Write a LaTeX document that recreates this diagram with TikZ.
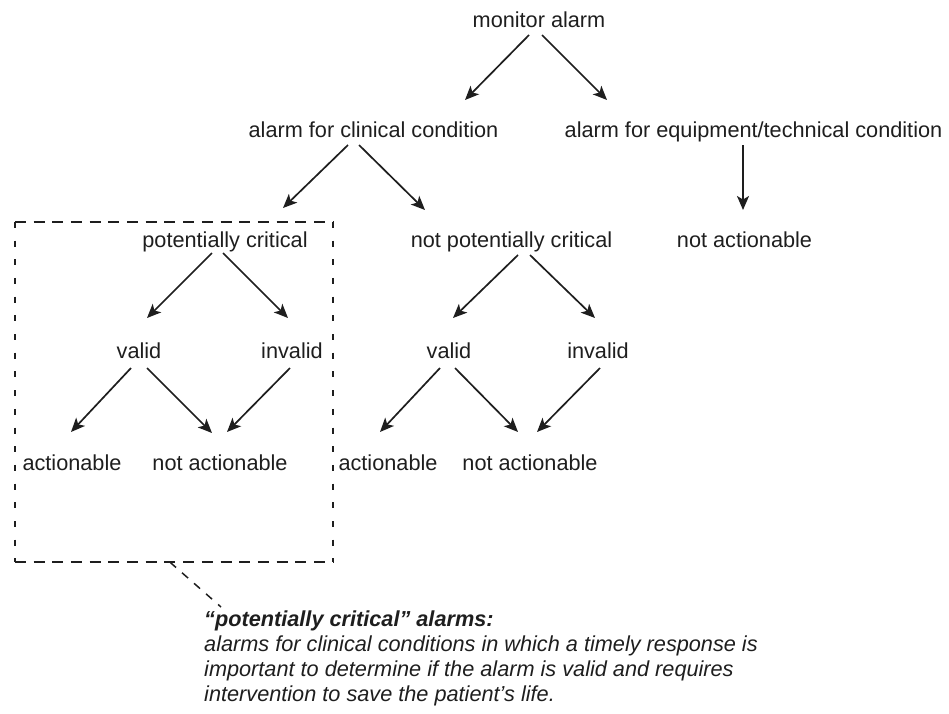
\documentclass[tikz,border=0pt]{standalone}
\usepackage{fontspec}
\setmainfont{Liberation Sans}
\usetikzlibrary{arrows.meta,calc}
\definecolor{ink}{HTML}{1E1E1E}
\begin{document}
\begin{tikzpicture}[x=1pt,y=-1pt,
  lbl/.style={inner sep=0pt, anchor=base, font=\fontsize{21.7}{25}\selectfont,
              text height=15.6pt, text depth=4.5pt, text=ink},
  arr/.style={line width=1.7pt, draw=ink,
              -{Stealth[length=14pt,width=12pt,inset=3.5pt]}},
  hdash/.style={line width=1.5pt, draw=ink, dash pattern=on 11pt off 7.7pt},
  vdash/.style={line width=1.5pt, draw=ink, dash pattern=on 6pt off 12.7pt},
  cdash/.style={line width=1.5pt, draw=ink, dash pattern=on 8pt off 8pt},
  ]
\useasboundingbox (0,0) rectangle (949,713);

% nodes
\node[lbl] (mon)   at (539,27)    {monitor alarm};
\node[lbl] (clin)  at (373.5,137) {alarm for clinical condition};
\node[lbl] (equip) at (753.5,137) {alarm for equipment/technical condition};
\node[lbl] (pc)    at (225,247)   {potentially critical};
\node[lbl] (npc)   at (511.5,247) {not potentially critical};
\node[lbl] (nact)  at (744.5,247) {not actionable};
\node[lbl] (vL)    at (139,358)   {valid};
\node[lbl] (iL)    at (292,358)   {invalid};
\node[lbl] (vM)    at (449,358)   {valid};
\node[lbl] (iM)    at (598,358)   {invalid};
\node[lbl] (aL)    at (72,470)    {actionable};
\node[lbl] (naL)   at (220,470)   {not actionable};
\node[lbl] (aM)    at (388,470)   {actionable};
\node[lbl] (naM)   at (530,470)   {not actionable};

% arrows
\draw[arr] ($(mon.base)+(-10,8)$)   -- ($(clin.base)+(91.5,-37)$);
\draw[arr] ($(mon.base)+(3,8)$)     -- ($(equip.base)+(-146.5,-37)$);
\draw[arr] ($(clin.base)+(-25.5,8)$) -- ($(pc.base)+(58,-39)$);
\draw[arr] ($(clin.base)+(-14.5,8)$) -- ($(npc.base)+(-86.5,-37)$);
\draw[arr] ($(equip.base)+(-10.5,8)$) -- ($(nact.base)+(-1.5,-37)$);
\draw[arr] ($(pc.base)+(-13,6)$)    -- ($(vL.base)+(8,-40)$);
\draw[arr] ($(pc.base)+(-2,6)$)     -- ($(iL.base)+(-4,-40)$);
\draw[arr] ($(npc.base)+(6.5,8)$)   -- ($(vM.base)+(4,-40)$);
\draw[arr] ($(npc.base)+(18.5,8)$)  -- ($(iM.base)+(-3,-40)$);
\draw[arr] ($(vL.base)+(-8,10)$)    -- ($(aL.base)+(-1,-38)$);
\draw[arr] ($(vL.base)+(8,10)$)     -- ($(naL.base)+(-8,-37)$);
\draw[arr] ($(iL.base)+(-2,10)$)    -- ($(naL.base)+(7,-38)$);
\draw[arr] ($(vM.base)+(-9,10)$)    -- ($(aM.base)+(-8,-38)$);
\draw[arr] ($(vM.base)+(6,10)$)     -- ($(naM.base)+(-12,-38)$);
\draw[arr] ($(iM.base)+(2,10)$)     -- ($(naM.base)+(7,-38)$);

% dashed box around the potentially critical subtree
\node[inner sep=0pt, minimum width=318pt, minimum height=340pt] (box) at (174,392) {};
\draw[hdash] (box.north west) -- (box.north east);
\draw[hdash] (box.south west) -- (box.south east);
\draw[vdash] (box.north west) -- (box.south west);
\draw[vdash] (box.north east) -- (box.south east);

% callout
\node[inner sep=0pt, anchor=north west, align=left, text=ink,
      font=\fontsize{21.7}{25}\selectfont\itshape] (note) at (204,611)
  {\textbf{“potentially critical” alarms:}\\
   alarms for clinical conditions in which a timely response is\\
   important to determine if the alarm is valid and requires\\
   intervention to save the patient’s life.};
\draw[cdash] ($(box.south)+(-4,0)$) -- ($(note.north west)+(17,-4)$);
\end{tikzpicture}
\end{document}
